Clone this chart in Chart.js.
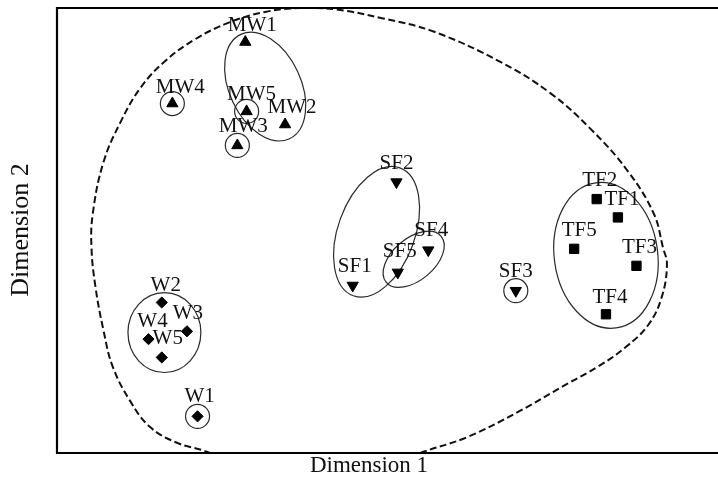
<!DOCTYPE html>
<html>
<head>
<meta charset="utf-8">
<script src="https://cdn.jsdelivr.net/npm/chart.js@4/dist/chart.umd.min.js"></script>
<style>
  html, body { margin: 0; padding: 0; background: #fff; overflow: hidden; }
  #wrap { width: 724px; height: 479px; position: relative; }
  canvas { display: block; }
</style>
</head>
<body>
<div id="wrap"><canvas id="mds" width="724" height="479" style="width:724px;height:479px"></canvas></div>
<script>
// MDS configuration: sample coordinates on the two dimensions
const mwLabels = ['MW1', 'MW2', 'MW3', 'MW4', 'MW5'];
const mwDim1   = [-1.08, -0.78, -1.14, -1.63, -1.07];
const mwDim2   = [ 1.44,  0.81,  0.65,  0.97,  0.91];

const sfLabels = ['SF1', 'SF2', 'SF3', 'SF4', 'SF5'];
const sfDim1   = [-0.27, 0.06, 0.96, 0.30, 0.07];
const sfDim2   = [-0.42, 0.37, -0.46, -0.15, -0.32];

const tfLabels = ['TF1', 'TF2', 'TF3', 'TF4', 'TF5'];
const tfDim1   = [1.73, 1.57, 1.87, 1.64, 1.40];
const tfDim2   = [0.10, 0.24, -0.27, -0.64, -0.14];

const wLabels  = ['W1', 'W2', 'W3', 'W4', 'W5'];
const wDim1    = [-1.44, -1.71, -1.52, -1.81, -1.71];
const wDim2    = [-1.42, -0.55, -0.77, -0.83, -0.97];

// samples that stand alone get their own ring
const isolatedSamples = ['MW3', 'MW4', 'MW5', 'SF3', 'W1'];

// cluster ellipses: centre, semi-axes (in dimension units) and tilt in degrees
const clusterNames   = ['MW', 'SF-a', 'SF-b', 'TF', 'W'];
const clusterDim1    = [-0.93, -0.09, 0.19, 1.64, -1.69];
const clusterDim2    = [ 1.10, -0.01, -0.22, -0.19, -0.78];
const clusterSemi1   = [0.27, 0.29, 0.27, 0.39, 0.275];
const clusterSemi2   = [0.44, 0.52, 0.16, 0.56, 0.305];
const clusterTiltDeg = [-25, 20, -40, -8, 0];

// dashed outer boundary enclosing all samples (runs out past the lower axis on both ends)
const boundaryDim1 = [-1.12, -1.37, -1.60, -1.80, -1.95, -2.08, -2.15, -2.21, -2.24, -2.23, -2.15, -2.02,
  -1.87, -1.69, -1.46, -1.20, -0.93, -0.67, -0.40, -0.04, 0.34, 0.84, 1.22, 1.52, 1.80, 2.00, 2.07,
  2.10, 2.06, 1.96, 1.79, 1.58, 1.35, 0.97, 0.59, 0.24, 0.01];
const boundaryDim2 = [-1.80, -1.69, -1.62, -1.50, -1.30, -1.04, -0.76, -0.43, -0.13, 0.13, 0.52, 0.83,
  1.09, 1.29, 1.46, 1.59, 1.67, 1.70, 1.69, 1.62, 1.52, 1.29, 1.05, 0.78, 0.46, 0.13, -0.13,
  -0.26, -0.51, -0.72, -0.89, -1.04, -1.17, -1.39, -1.58, -1.70, -1.80];

const dim1Range = [-2.5, 2.5];
const dim2Range = [-1.7, 1.7];

// label nudges in pixels (dx, baseline dy) relative to each marker
const labelNudge = {
  MW1: [7, -11], MW2: [7, -11], MW3: [6, -13], MW4: [8, -11], MW5: [5, -11],
  SF1: [2, -13], SF2: [0, -13], SF3: [0, -14], SF4: [3, -14], SF5: [2, -15],
  TF1: [4, -12], TF2: [3, -13], TF3: [3, -13], TF4: [4, -11], TF5: [5, -13],
  W1: [2, -14], W2: [4, -11], W3: [1, -12], W4: [4, -12], W5: [6, -13]
};

const SERIF = "'Liberation Serif', 'DejaVu Serif', serif";

function toPoints(d1, d2, labels) {
  return d1.map((v, i) => ({ x: v, y: d2[i], label: labels ? labels[i] : undefined }));
}

const allLabels = [].concat(mwLabels, sfLabels, tfLabels, wLabels);
const allDim1 = [].concat(mwDim1, sfDim1, tfDim1, wDim1);
const allDim2 = [].concat(mwDim2, sfDim2, tfDim2, wDim2);
const isolatedPoints = isolatedSamples.map(name => {
  const i = allLabels.indexOf(name);
  return { x: allDim1[i], y: allDim2[i] };
});

const clusterEllipses = {
  id: 'clusterEllipses',
  beforeDatasetsDraw(chart) {
    const { ctx, scales: { x, y } } = chart;
    ctx.save();
    ctx.strokeStyle = '#2a2a2a';
    ctx.lineWidth = 1.2;
    clusterNames.forEach((name, i) => {
      const px = x.getPixelForValue(clusterDim1[i]);
      const py = y.getPixelForValue(clusterDim2[i]);
      const rx = Math.abs(x.getPixelForValue(clusterDim1[i] + clusterSemi1[i]) - px);
      const ry = Math.abs(y.getPixelForValue(clusterDim2[i] + clusterSemi2[i]) - py);
      ctx.beginPath();
      ctx.ellipse(px, py, rx, ry, clusterTiltDeg[i] * Math.PI / 180, 0, Math.PI * 2);
      ctx.stroke();
    });
    ctx.restore();
  }
};

const sampleLabels = {
  id: 'sampleLabels',
  afterDatasetsDraw(chart) {
    const { ctx } = chart;
    ctx.save();
    ctx.font = '21px ' + SERIF;
    ctx.fillStyle = '#111';
    ctx.textAlign = 'center';
    ctx.textBaseline = 'alphabetic';
    chart.data.datasets.forEach((ds, di) => {
      if (!ds.isSample) return;
      const meta = chart.getDatasetMeta(di);
      meta.data.forEach((el, i) => {
        const name = ds.data[i].label;
        const n = labelNudge[name] || [4, -12];
        ctx.fillText(name, el.x + n[0], el.y + n[1]);
      });
    });
    ctx.restore();
  }
};

const frameAndTitles = {
  id: 'frameAndTitles',
  afterDraw(chart) {
    const { ctx, chartArea: a } = chart;
    ctx.save();
    ctx.strokeStyle = '#000';
    ctx.lineWidth = 2.2;
    ctx.beginPath();
    ctx.rect(a.left, a.top, a.right - a.left, a.bottom - a.top);
    ctx.stroke();
    ctx.fillStyle = '#111';
    ctx.font = '23px ' + SERIF;
    ctx.textAlign = 'center';
    ctx.textBaseline = 'middle';
    ctx.fillText('Dimension 1', 369, 466);
    ctx.translate(21, 230);
    ctx.rotate(-Math.PI / 2);
    ctx.font = '26px ' + SERIF;
    ctx.fillText('Dimension 2', 0, 0);
    ctx.restore();
  }
};

const markerBase = {
  showLine: false,
  backgroundColor: '#000',
  borderColor: '#000',
  borderWidth: 1,
  isSample: true
};

new Chart(document.getElementById('mds'), {
  type: 'scatter',
  data: {
    datasets: [
      {
        label: 'boundary',
        data: toPoints(boundaryDim1, boundaryDim2),
        showLine: true,
        borderColor: '#111',
        borderWidth: 2,
        borderDash: [7, 3.5],
        pointRadius: 0,
        tension: 0.4,
        fill: false
      },
      {
        label: 'isolated',
        data: isolatedPoints,
        showLine: false,
        pointStyle: 'circle',
        pointRadius: 12,
        borderWidth: 1.2,
        borderColor: '#2a2a2a',
        backgroundColor: 'rgba(0,0,0,0)'
      },
      Object.assign({}, markerBase, { label: 'MW', data: toPoints(mwDim1, mwDim2, mwLabels), pointStyle: 'triangle', pointRadius: 6.5 }),
      Object.assign({}, markerBase, { label: 'SF', data: toPoints(sfDim1, sfDim2, sfLabels), pointStyle: 'triangle', rotation: 180, pointRadius: 6.5 }),
      Object.assign({}, markerBase, { label: 'TF', data: toPoints(tfDim1, tfDim2, tfLabels), pointStyle: 'rect', pointRadius: 6.6 }),
      Object.assign({}, markerBase, { label: 'W', data: toPoints(wDim1, wDim2, wLabels), pointStyle: 'rectRot', pointRadius: 5.6 })
    ]
  },
  options: {
    responsive: false,
    animation: false,
    events: [],
    layout: { autoPadding: false, padding: { left: 57, top: 8, right: 4, bottom: 26 } },
    scales: {
      x: { type: 'linear', min: dim1Range[0], max: dim1Range[1], display: false },
      y: { type: 'linear', min: dim2Range[0], max: dim2Range[1], display: false }
    },
    plugins: {
      legend: { display: false },
      tooltip: { enabled: false }
    }
  },
  plugins: [clusterEllipses, sampleLabels, frameAndTitles]
});
</script>
</body>
</html>
